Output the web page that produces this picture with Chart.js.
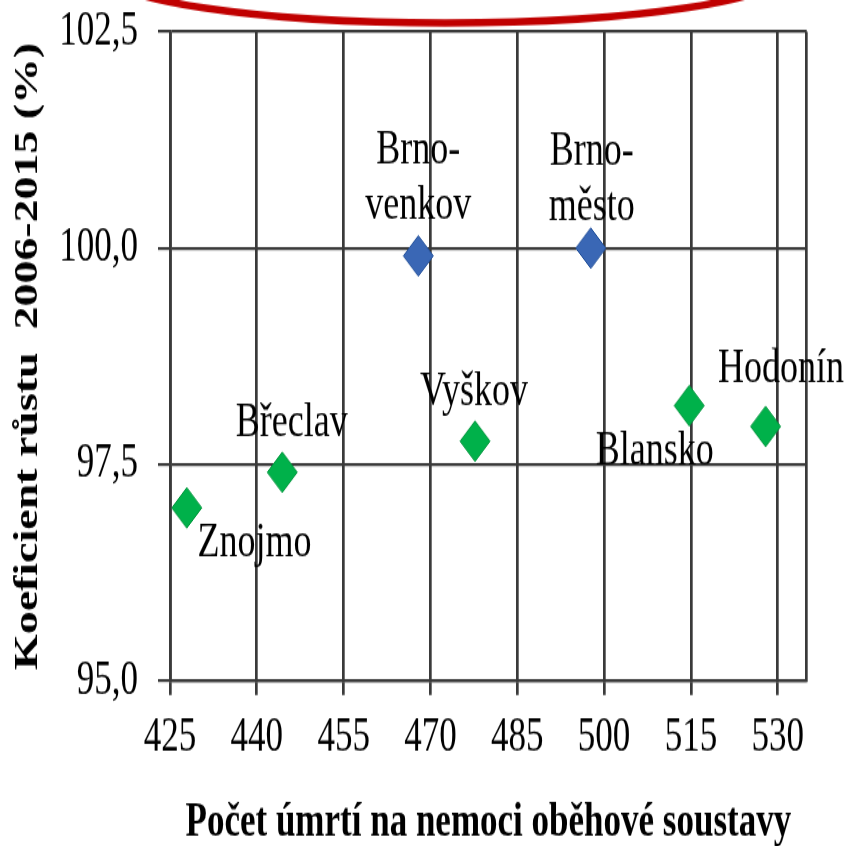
<!DOCTYPE html>
<html>
<head>
<meta charset="utf-8">
<script src="https://cdn.jsdelivr.net/npm/chart.js@4.4.1/dist/chart.umd.min.js"></script>
<style>
  html, body { margin: 0; padding: 0; background: #fff; }
  #wrap { width: 848px; height: 846px; overflow: hidden; }
  /* the source picture is stretched vertically, so is this one */
  #chart { transform: scaleY(1.35); transform-origin: 0 0; }
</style>
</head>
<body>
<div id="wrap"><canvas id="chart" width="848" height="627"></canvas></div>
<script>
// Brno districts (blue)
const brnoNames = [['Brno-', 'venkov'], ['Brno-', 'město']];
const brnoDeaths = [467.9, 497.7];
const brnoGrowth = [99.91, 100.0];

// other districts (green)
const otherNames = ['Znojmo', 'Břeclav', 'Vyškov', 'Blansko', 'Hodonín'];
const otherDeaths = [427.9, 444.4, 477.7, 514.7, 527.9];
const otherGrowth = [97.0, 97.41, 97.77, 98.18, 97.94];

const xTickValues = [425, 440, 455, 470, 485, 500, 515, 530];
const xMax = 535;
const yTickValues = [95, 97.5, 100, 102.5];
const yTickLabels = ['95,0', '97,5', '100,0', '102,5'];

// label placement next to each point, [dx, dy] of the last line's baseline
const brnoLabelOffsets = [[0, -27.4], [1, -20.4]];
const otherLabelOffsets = [[67.8, 36.3], [9.5, -27.2], [-1, -26.7], [-34.5, 43.7], [15.5, -32.4]];

const serif = '"Liberation Serif", "Times New Roman", serif';
const gridColor = '#3a3a3a';

const toPoints = (xs, ys) => xs.map((x, i) => ({ x: x, y: ys[i] }));

const pointLabels = {
  id: 'pointLabels',
  afterDraw(chart) {
    const ctx = chart.ctx;
    ctx.save();
    ctx.font = '36px ' + serif;
    ctx.fillStyle = '#000';
    ctx.textAlign = 'center';
    ctx.textBaseline = 'alphabetic';
    chart.data.datasets.forEach((ds, di) => {
      chart.getDatasetMeta(di).data.forEach((pt, i) => {
        const lines = [].concat(ds.names[i]);
        const [dx, dy] = ds.labelOffsets[i];
        lines.forEach((t, k) => {
          ctx.fillText(t, pt.x + dx, pt.y + dy - (lines.length - 1 - k) * 41);
        });
      });
    });
    ctx.restore();
  }
};

// red ring cut off at the top of the picture
const redRing = {
  id: 'redRing',
  afterDraw(chart) {
    const ctx = chart.ctx;
    ctx.save();
    ctx.beginPath();
    ctx.ellipse(445, -30 / 1.35, 345, 53 / 1.35, 0, 0, Math.PI * 2);
    ctx.strokeStyle = '#c00000';
    ctx.lineWidth = 5.5;
    ctx.stroke();
    ctx.restore();
  }
};

new Chart(document.getElementById('chart'), {
  type: 'scatter',
  data: {
    datasets: [
      {
        data: toPoints(brnoDeaths, brnoGrowth),
        names: brnoNames,
        labelOffsets: brnoLabelOffsets,
        backgroundColor: '#3a67b5',
        borderColor: '#22509a',
        borderWidth: 1,
        pointStyle: 'rectRot',
        pointRadius: 15,
        pointHoverRadius: 15
      },
      {
        data: toPoints(otherDeaths, otherGrowth),
        names: otherNames,
        labelOffsets: otherLabelOffsets,
        backgroundColor: '#00b14a',
        borderColor: '#00953c',
        borderWidth: 1,
        pointStyle: 'rectRot',
        pointRadius: 15,
        pointHoverRadius: 15
      }
    ]
  },
  options: {
    responsive: false,
    devicePixelRatio: 1,
    animation: false,
    layout: { padding: { left: 0, right: 41.3, top: 23.5, bottom: 0 } },
    plugins: {
      legend: { display: false },
      tooltip: { enabled: false }
    },
    scales: {
      x: {
        type: 'linear',
        min: 425,
        max: xMax,
        afterFit: s => { s.height = 122.6; s.paddingLeft = 0; s.paddingRight = 0; },
        // gridlines at 425..530, plus the right frame at 535
        afterBuildTicks: s => { s.ticks = xTickValues.concat([xMax]).map(v => ({ value: v })); },
        ticks: {
          autoSkip: false,
          maxRotation: 0,
          padding: 10.9,
          color: '#000',
          font: { family: serif, size: 35 },
          callback: v => xTickValues.includes(v) ? String(v) : ''
        },
        grid: {
          color: gridColor,
          lineWidth: 2.7,
          tickLength: 10.4,
          tickColor: ctx => ctx.tick && ctx.tick.value > 530 ? 'rgba(0,0,0,0)' : gridColor
        },
        border: { color: gridColor, width: 2.2 },
        title: {
          display: true,
          text: 'Počet úmrtí na nemoci oběhové soustavy',
          color: '#000',
          font: { family: serif, size: 35, weight: 'bold', lineHeight: 1 },
          padding: 0
        }
      },
      y: {
        min: 95,
        max: 102.5,
        afterFit: s => { s.width = 170; s.paddingTop = 0; s.paddingBottom = 0; },
        afterBuildTicks: s => { s.ticks = yTickValues.map(v => ({ value: v })); },
        ticks: {
          padding: 20,
          color: '#000',
          font: { family: serif, size: 35 },
          callback: v => yTickLabels[yTickValues.indexOf(v)] ?? ''
        },
        grid: { color: gridColor, lineWidth: 2.2, tickLength: 12 },
        border: { color: gridColor, width: 2.7 },
        title: {
          display: true,
          text: 'Koeficient růstu  2006-2015 (%)',
          color: '#000',
          font: { family: serif, size: 34, weight: 'bold', lineHeight: 1 },
          padding: { top: 11, bottom: 0 }
        }
      }
    }
  },
  plugins: [pointLabels, redRing]
});
</script>
</body>
</html>
